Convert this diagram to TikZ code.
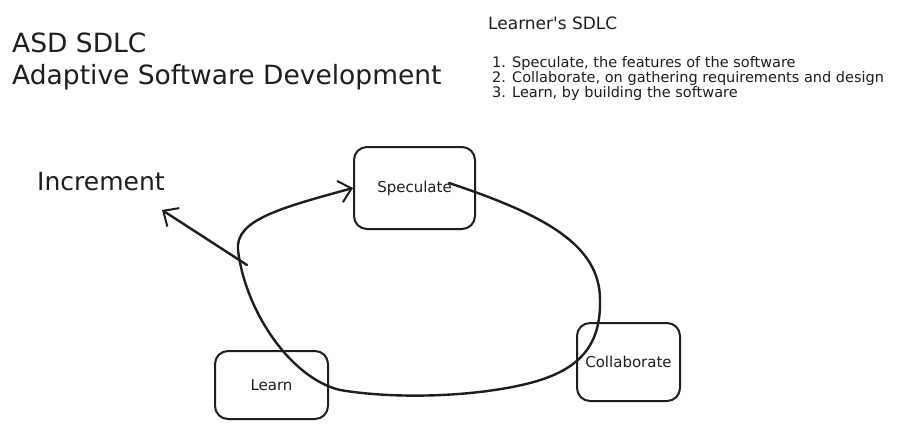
\documentclass[tikz,border=0pt]{standalone}
\usepackage{fontspec}
\setmainfont{DejaVu Sans}
\usetikzlibrary{arrows.meta}
\definecolor{ink}{HTML}{1E1E1E}
\tikzset{
  box/.style={draw=ink, line width=2pt, rounded corners=13pt, inner sep=0pt, text=ink, font=\fontsize{15}{18}\selectfont},
  txt/.style={inner sep=0pt, text=ink},
  flow/.style={draw=ink, line width=2.4pt, line cap=round, -{Straight Barb[length=12pt,width=22pt,line width=2pt]}},
}
\begin{document}
\begin{tikzpicture}[x=1pt,y=-1pt]
\useasboundingbox[fill=white] (0,0) rectangle (914,429);
% titles
\node[txt, anchor=base west, font=\fontsize{26.5}{30}\selectfont] (t1) at (12,52) {ASD SDLC};
\node[txt, anchor=base west, font=\fontsize{26.5}{30}\selectfont] (t2) at (12,84) {Adaptive Software Development};
\node[txt, anchor=base west, font=\fontsize{17}{20}\selectfont] (lt) at (488,29) {Learner\textquotesingle s SDLC};
\node[txt, anchor=base west, font=\fontsize{14.5}{15}\selectfont] (l1) at (492,67) {1. Speculate, the features of the software};
\node[txt, anchor=base west, font=\fontsize{14.5}{15}\selectfont] (l2) at (492,82) {2. Collaborate, on gathering requirements and design};
\node[txt, anchor=base west, font=\fontsize{14.5}{15}\selectfont] (l3) at (492,97) {3. Learn, by building the software};
\node[txt, anchor=base west, font=\fontsize{25}{30}\selectfont] (inc) at (37,190) {Increment};
% boxes
\node[box, minimum width=121pt, minimum height=82pt] (spec) at (414.5,188) {Speculate};
\node[box, minimum width=103pt, minimum height=78pt] (coll) at (628.5,362) {Collaborate};
\node[box, minimum width=113pt, minimum height=68pt] (learn) at (271.5,385) {Learn};
% cycle
\coordinate (c0) at (449,183);
\coordinate (c1) at (600,300);
\coordinate (c2) at (530,383);
\coordinate (c3) at (340,390);
\coordinate (c4) at (238,250);
\draw[flow] (c0) .. controls (545,215) and (600,245) .. (c1)
  .. controls (601,345) and (580,370) .. (c2)
  .. controls (480,396) and (400,400) .. (c3)
  .. controls (290,378) and (245,310) .. (c4)
  .. controls (235,220) and (280,208) .. (spec.west);
% increment arrow
\coordinate (i0) at (247,265);
\coordinate (i1) at (162,210);
\draw[flow] (i0) -- (i1);
\end{tikzpicture}
\end{document}
